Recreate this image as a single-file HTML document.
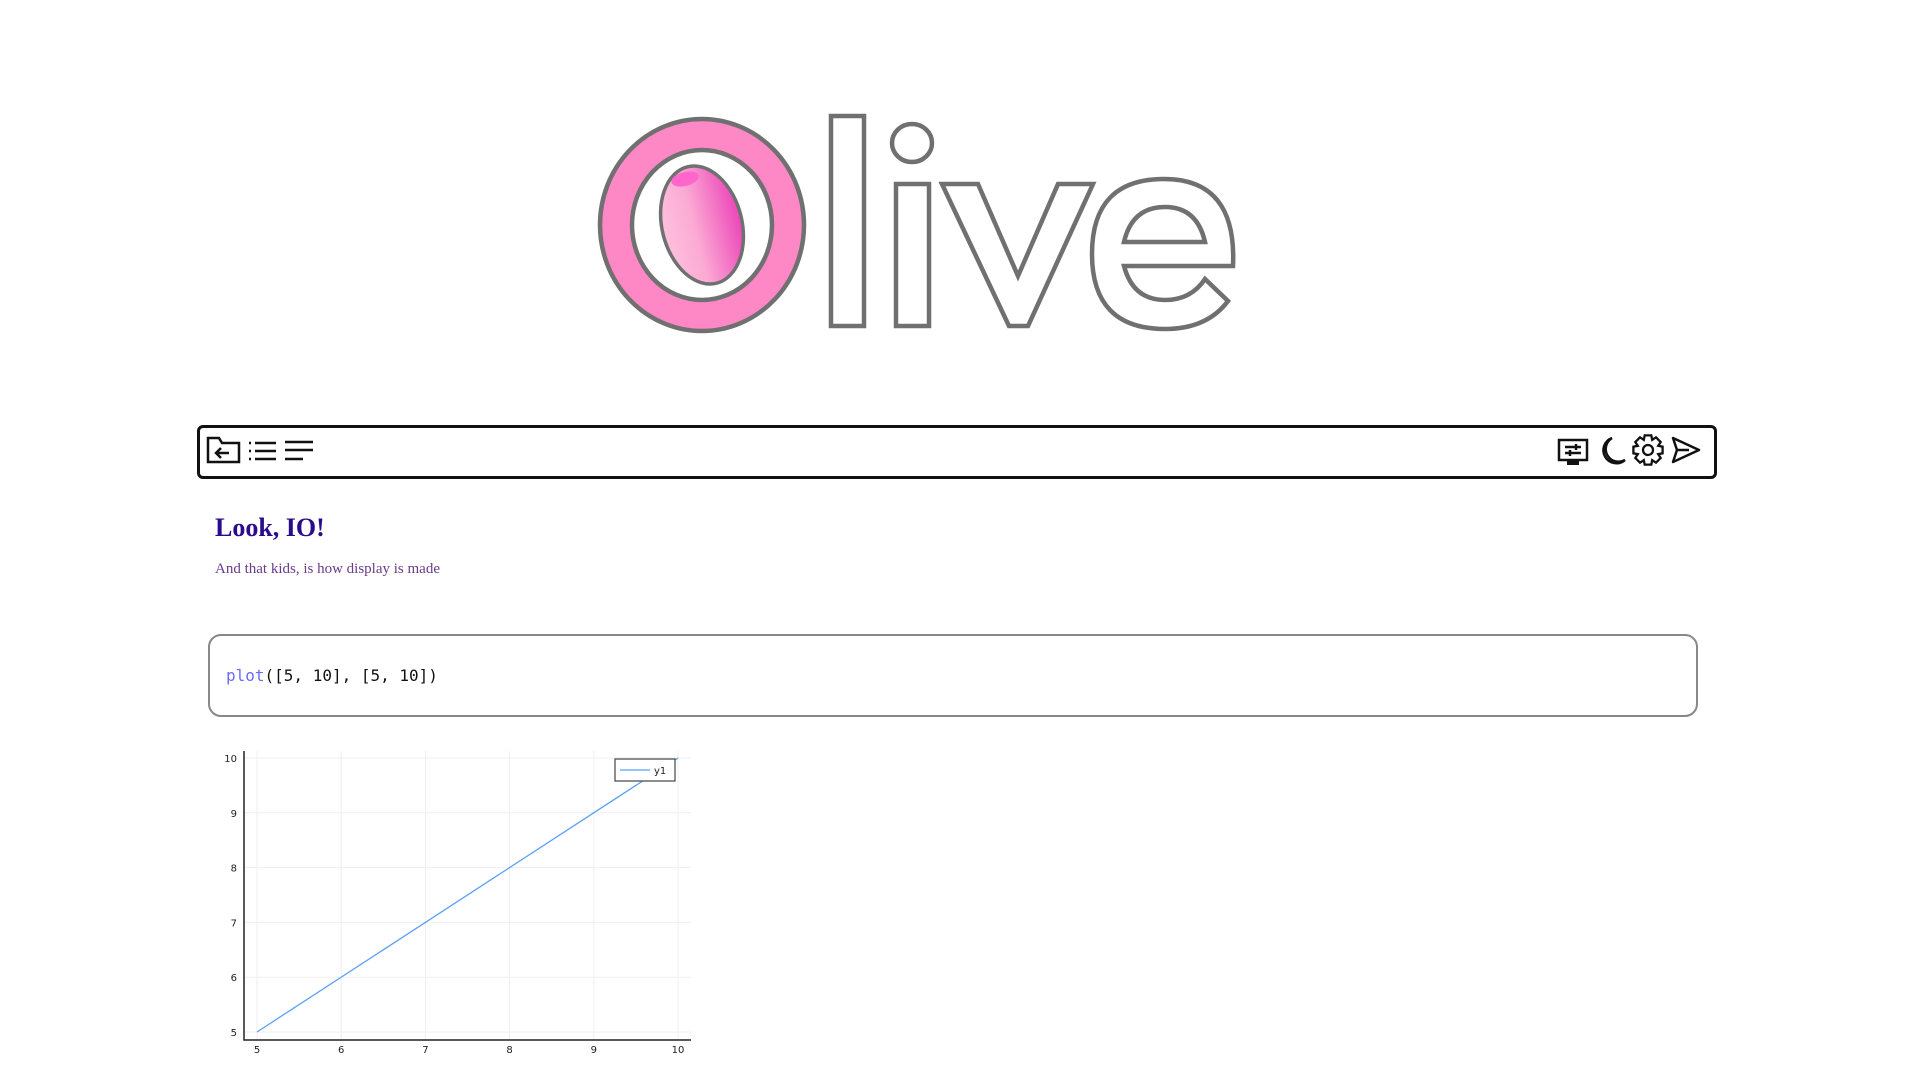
<!DOCTYPE html>
<html><head><meta charset="utf-8"><style>
body{margin:0;width:1920px;height:1080px;background:#fff;position:relative;overflow:hidden;font-family:"Liberation Serif",serif}
.abs{position:absolute}
</style></head><body>
<svg class="abs" style="left:0;top:0" width="1920" height="340">
<defs>
<linearGradient id="og" x1="0" x2="1" y1="0" y2="0"><stop offset="0" stop-color="#ffc0dc"/><stop offset="0.4" stop-color="#fbaad4"/><stop offset="1" stop-color="#ec45b8"/></linearGradient>
</defs>
<g stroke="#707070" stroke-width="4.5" transform="translate(-9,-1)">
<g transform="translate(2,0)">
<ellipse cx="709" cy="226" rx="102" ry="106" fill="#fd88c5"/>
<ellipse cx="709" cy="226" rx="70" ry="75" fill="#fff"/>
<ellipse cx="709" cy="226" rx="40" ry="60" transform="rotate(-14 709 226)" fill="url(#og)" stroke-width="3.5"/>
<ellipse cx="692" cy="180" rx="14" ry="7" transform="rotate(-14 692 180)" fill="#ff66cc" stroke="none"/>
</g>
<g fill="#fff" stroke-linejoin="miter">
<rect x="840" y="117" width="33" height="210"/>
<rect x="905" y="185" width="33" height="142"/>
<ellipse cx="921" cy="144" rx="20" ry="19"/>
<path d="M951,185 L987,185 L1027,277 L1067,185 L1102,185 L1037,327 L1018,327 Z"/>
<path d="M1242,267 L1133,267 Q1142,301 1174,301 Q1200,301 1214,280 L1237,302 Q1216,330 1174,330 Q1101,330 1101,255 Q1101,180 1173,180 Q1246,180 1242,267 Z"/>
<path d="M1133,243 L1214,243 Q1206,208 1174,208 Q1141,208 1133,243 Z"/>
</g></g>
</svg>

<div class="abs" style="left:197px;top:425px;width:1514px;height:48px;border:3px solid #111;border-radius:6px"></div>
<svg class="abs" style="left:200px;top:429px" width="120" height="45">
<g fill="none" stroke="#111" stroke-width="2.5"><path d="M8,10 L8,33 L39,33 L39,14 L22,14 L19,9 L8,9Z"/><path d="M29,24 L16,24 M21,19 L16,24 L21,29"/></g>
<g stroke="#111" stroke-width="2.5"><path d="M55,14h21M55,22h21M55,30h21"/><path d="M49,14h2M49,22h2M49,30h2"/></g>
<g stroke="#111" stroke-width="2.5"><path d="M85,13h28M85,21h28M85,30h18"/></g>
</svg>
<svg class="abs" style="left:1550px;top:428px" width="160" height="45">
<g fill="none" stroke="#111" stroke-width="2.5"><rect x="9" y="12" width="28" height="20"/><path d="M15,19h16M15,25h16M26,16v6M20,22v6"/><path d="M17,35h12" stroke-width="4"/></g>
<path d="M62,10 A13,13 0 1 0 75,32 A12,12 0 0 1 62,10Z" fill="none" stroke="#111" stroke-width="2.5"/>
<g fill="none" stroke="#111" stroke-width="2.3"><circle cx="98" cy="22" r="5"/><path id="gear" d=""/></g>
<path d="M123,10 L149,22 L123,34 L127,22Z M127,22 L139,22" fill="none" stroke="#111" stroke-width="2.5" stroke-linejoin="round"/>
</svg>
<script>
(function(){let d='';const cx=98,cy=22,n=8;for(let i=0;i<n;i++){const a=i*2*Math.PI/n;const pts=[[a-0.39,11],[a-0.22,15],[a+0.22,15],[a+0.39,11]];pts.forEach((p,j)=>{const x=cx+p[1]*Math.cos(p[0]),y=cy+p[1]*Math.sin(p[0]);d+=(i===0&&j===0?'M':'L')+x.toFixed(1)+','+y.toFixed(1);});}document.getElementById('gear').setAttribute('d',d+'Z');})();
</script>

<div class="abs" style="left:215px;top:513px;font-size:26px;font-weight:bold;color:#2b0a8c">Look, IO!</div>
<div class="abs" style="left:215px;top:561px;font-size:15px;color:#6a3a8c">And that kids, is how display is made</div>

<div class="abs" style="left:208px;top:634px;width:1490px;height:83px;border:2px solid #888;border-radius:13px;box-sizing:border-box"></div>
<div class="abs" style="left:226px;top:666px;font-family:'DejaVu Sans Mono','Liberation Mono',monospace;font-size:16px;color:#111"><span style="color:#6b6bff">plot</span>([5, 10], [5, 10])</div>

<svg id="chart" class="abs" style="left:0;top:0" width="1920" height="1080"></svg>
<script>
const xs=[5,10];
const ys=[5,10];
const xTicks=[5,6,7,8,9,10];
const yTicks=[5,6,7,8,9,10];
const seriesName="y1";
const NS="http://www.w3.org/2000/svg";
const svg=document.getElementById('chart');
const L=244,R=691,T=751,B=1040;
const X=v=>257+(v-5)*(678-257)/5;
const Y=v=>1032-(v-5)*(1032-758)/5;
function mk(t,a,p){const e=document.createElementNS(NS,t);for(const k in a)e.setAttribute(k,a[k]);(p||svg).appendChild(e);return e;}
xTicks.forEach(t=>{
 const g=mk('line',{x1:X(t),x2:X(t),y1:T,y2:B,stroke:'#efefef','stroke-width':1});
 
 
 const tx=mk('text',{x:X(t),y:B+13,'text-anchor':'middle','font-size':10,'font-family':'DejaVu Sans,sans-serif',fill:'#222'});
 tx.textContent=t;
 
 
});
yTicks.forEach(t=>{
 const g=mk('line',{x1:L,x2:R,y1:Y(t),y2:Y(t),stroke:'#efefef','stroke-width':1});
 
 
 const tx=mk('text',{x:L-7,y:Y(t)+4,'text-anchor':'end','font-size':10,'font-family':'DejaVu Sans,sans-serif',fill:'#222'});
 tx.textContent=t;
 
 
});
const ax=mk('path',{d:`M${L},${T} L${L},${B} L${R},${B}`,stroke:'#222','stroke-width':1.5,fill:'none'});


const ln=mk('polyline',{points:xs.map((x,i)=>X(x)+','+Y(ys[i])).join(' '),stroke:'#5b9ff7','stroke-width':1.3,fill:'none'});


const lb=mk('rect',{x:615,y:759,width:60,height:22,fill:'#fff',stroke:'#444','stroke-width':1.2});


const ll=mk('line',{x1:620,x2:650,y1:770,y2:770,stroke:'#5b9ff7','stroke-width':1.3});


const lt=mk('text',{x:654,y:774,'font-size':10,'font-family':'DejaVu Sans,sans-serif',fill:'#222'});
lt.textContent=seriesName;


</script>
</body></html>
